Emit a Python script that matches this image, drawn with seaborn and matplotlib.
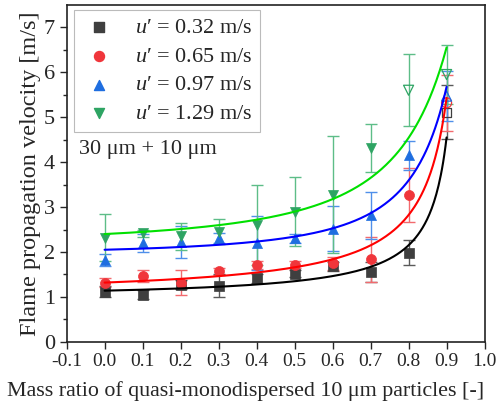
import numpy as np
import pandas as pd
import matplotlib
matplotlib.use("Agg")
import matplotlib.pyplot as plt
import seaborn as sns

# ---- data ----
mass_ratio = [0.0, 0.1, 0.2, 0.3, 0.4, 0.5, 0.6, 0.7, 0.8, 0.9]
labels = ["0.32", "0.65", "0.97", "1.29"]

v_032 = [1.12, 1.05, 1.27, 1.25, 1.42, 1.52, 1.68, 1.55, 1.98, 5.11]
e_032 = [0.12, 0.10, 0.10, 0.25, 0.10, 0.08, 0.10, 0.22, 0.28, 0.60]
v_065 = [1.32, 1.46, 1.32, 1.57, 1.71, 1.72, 1.75, 1.84, 3.26, 5.32]
e_065 = [0.10, 0.13, 0.27, 0.08, 0.08, 0.08, 0.15, 0.50, 0.60, 0.62]
v_097 = [1.82, 2.20, 2.22, 2.31, 2.20, 2.31, 2.52, 2.82, 4.15, 5.47]
e_097 = [0.14, 0.20, 0.36, 0.12, 0.60, 0.10, 0.50, 0.52, 0.33, 0.55]
v_129 = [2.32, 2.42, 2.35, 2.45, 2.60, 2.90, 3.28, 4.32, 5.60, 5.95]
e_129 = [0.52, 0.08, 0.30, 0.28, 0.90, 0.76, 1.30, 0.53, 0.80, 0.65]

hollow_032 = [False] * 9 + [True]
hollow_065 = [False] * 9 + [True]
hollow_097 = [False] * 9 + [True]
hollow_129 = [False] * 8 + [True, True]

# fitted curve parameters: y = a + b / (c - x)**n
fit_032 = (0.95, 0.18, 0.95, 1)
fit_065 = (1.00, 0.31, 0.97, 1)
fit_097 = (1.926, 0.15, 1.10, 2)
fit_129 = (2.152, 0.345, 1.18, 2)

# ---- styling ----
sns.set_theme(style="ticks")
plt.rcParams["font.family"] = "serif"
plt.rcParams["font.serif"] = ["Liberation Serif", "Times New Roman", "DejaVu Serif"]
plt.rcParams["mathtext.fontset"] = "custom"
plt.rcParams["mathtext.rm"] = "Liberation Serif"
plt.rcParams["mathtext.it"] = "Liberation Serif:italic"

marker_cols = ["#3f3f3f", "#f0363b", "#1f6ee0", "#2ea463"]
err_cols = ["#5a5a5a", "#f26a6e", "#4f8fea", "#5dbd88"]
line_cols = ["#000000", "#ff0000", "#0000ff", "#00e000"]
markers = ["s", "o", "^", "v"]
msizes = [46, 52, 52, 52]

series = [
    (v_032, e_032, hollow_032, fit_032),
    (v_065, e_065, hollow_065, fit_065),
    (v_097, e_097, hollow_097, fit_097),
    (v_129, e_129, hollow_129, fit_129),
]

fig = plt.figure(figsize=(4.97, 4.07), dpi=100)
ax = fig.add_axes([0.134, 0.16, 0.841, 0.828])

handles = []
for i, (v, e, hol, fit) in enumerate(series):
    df = pd.DataFrame({"x": mass_ratio, "v": v, "e": e, "hollow": hol})
    ax.errorbar(df["x"], df["v"], yerr=df["e"], fmt="none", ecolor=err_cols[i],
                elinewidth=1.0, capsize=4.2, capthick=1.0, zorder=2)
    filled = df[~df["hollow"]]
    opened = df[df["hollow"]]
    sns.scatterplot(data=filled, x="x", y="v", marker=markers[i], color=marker_cols[i],
                    s=msizes[i], edgecolor=marker_cols[i], linewidth=0.5, ax=ax,
                    zorder=3, legend=False)
    ax.scatter(opened["x"], opened["v"], marker=markers[i], s=msizes[i],
               facecolors="none", edgecolors=marker_cols[i], linewidths=0.9, zorder=3)
    a, b, c, n = fit
    xs = np.linspace(0.0, 0.9, 300)
    cdf = pd.DataFrame({"x": xs, "y": a + b / (c - xs) ** n})
    sns.lineplot(data=cdf, x="x", y="y", color=line_cols[i], linewidth=1.5, ax=ax,
                 zorder=4, legend=False)
    h = ax.scatter([], [], marker=markers[i], s=msizes[i], color=marker_cols[i],
                   label=rf"$u$′ = {labels[i]} m/s")
    handles.append(h)

ax.set_xlim(-0.1, 1.0)
ax.set_ylim(0, 7.5)
ax.set_xticks(np.round(np.arange(-0.1, 1.01, 0.1), 1))
ax.set_xticklabels([f"{t:.1f}" for t in np.arange(-0.1, 1.01, 0.1)], fontsize=14)
ax.set_yticks(range(0, 8))
ax.set_yticks(np.arange(0.5, 7.5, 1.0), minor=True)
ax.tick_params(axis="y", which="major", labelsize=16, length=5, width=1, direction="out")
ax.tick_params(axis="y", which="minor", length=3, width=1, direction="out")
ax.tick_params(axis="x", which="major", length=5, width=1, direction="out", pad=3)
for s in ax.spines.values():
    s.set_linewidth(1.2)
    s.set_color("#222222")

ax.set_xlabel("Mass ratio of quasi-monodispersed 10 μm particles [-]", fontsize=15.8)
ax.xaxis.set_label_coords(0.427, -0.115)
ax.set_ylabel("Flame propagation velocity [m/s]", fontsize=17.5, labelpad=2)

leg = ax.legend(handles=handles, loc="upper left", fontsize=16, frameon=True,
                fancybox=False, edgecolor="#aaaaaa", labelspacing=0.36,
                handletextpad=0.8, borderpad=0.35, bbox_to_anchor=(0.0175, 0.985),
                borderaxespad=0.0, handlelength=1.6)
leg.get_frame().set_linewidth(0.8)

ax.text(0.03, 0.57, "30 μm + 10 μm", transform=ax.transAxes, fontsize=16,
        ha="left", va="center")

fig.savefig("out.png", dpi=100)
